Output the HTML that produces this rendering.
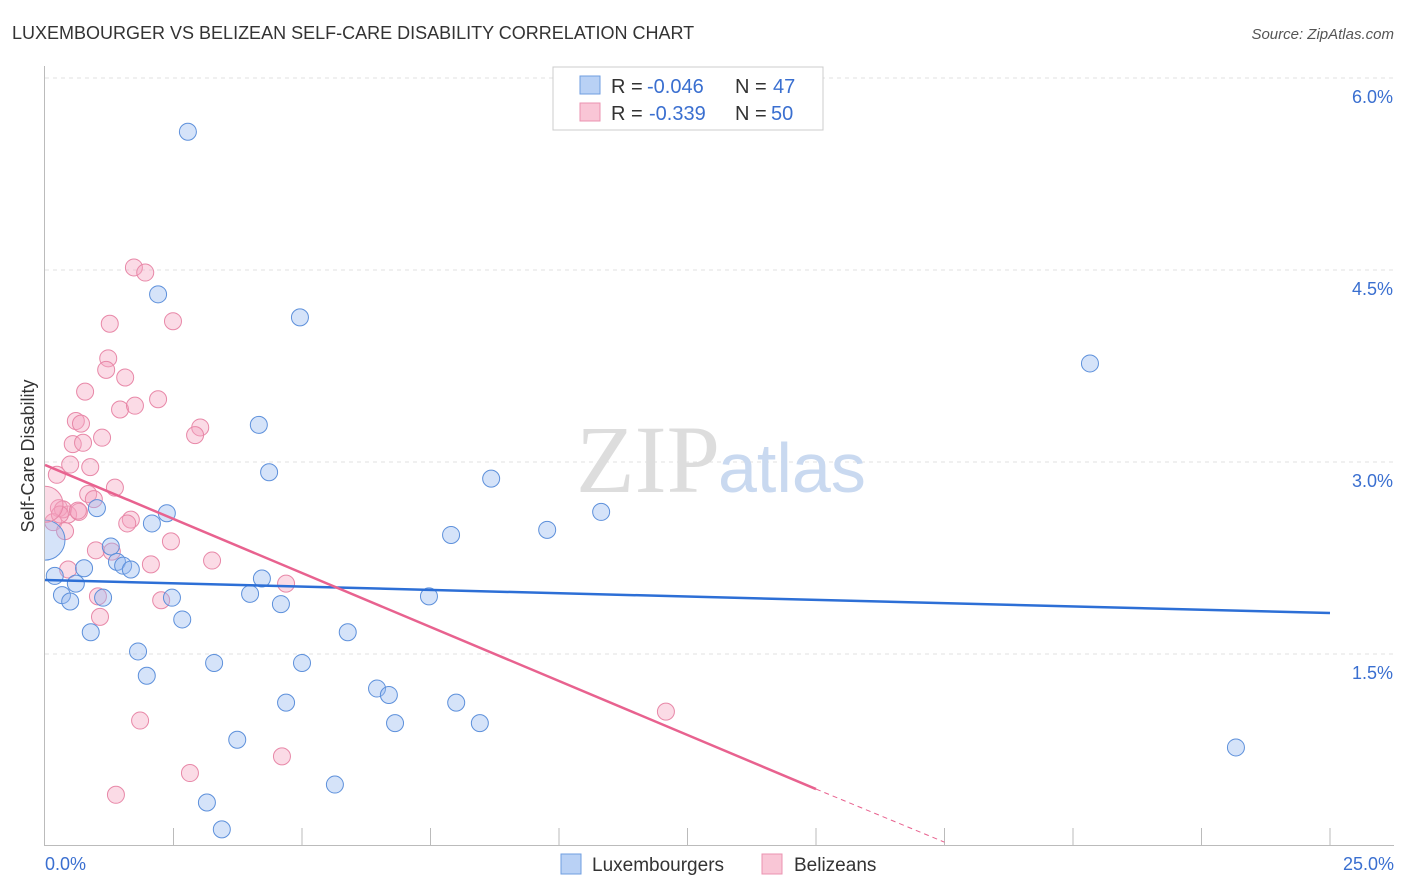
<!DOCTYPE html>
<html><head><meta charset="utf-8"><style>
body{margin:0;background:#fff;font-family:"Liberation Sans",sans-serif;}
svg{display:block}
</style></head><body>
<svg width="1406" height="892">
<defs><clipPath id="plot"><rect x="45" y="60" width="1360" height="786"/></clipPath></defs>
<text x="12" y="39" font-size="18" fill="#333">LUXEMBOURGER VS BELIZEAN SELF-CARE DISABILITY CORRELATION CHART</text>
<text x="1394" y="39" font-size="15" fill="#555" text-anchor="end" font-style="italic">Source: ZipAtlas.com</text>
<g id="grid"></g>
<g id="axes"></g>
<text x="720" y="492" font-size="96" fill="#ddd" text-anchor="end" font-family="Liberation Serif,serif">ZIP</text>
<text x="718" y="492" font-size="70" fill="#c9d9f0">atlas</text>
<g id="pts" clip-path="url(#plot)"></g>
<g id="lines"></g>
<text transform="translate(34,456) rotate(-90)" font-size="18" fill="#333" text-anchor="middle">Self-Care Disability</text>
<g>
<rect x="553" y="67" width="270" height="63" fill="#fff" stroke="#ccc"/>
<rect x="580" y="76" width="20" height="18" fill="#b9d1f5" stroke="#6f9ee0"/>
<rect x="580" y="103" width="20" height="18" fill="#f9c6d6" stroke="#eb93b0"/>
<text x="611" y="93" font-size="20" fill="#333">R =</text>
<text x="647" y="93" font-size="20" fill="#3a6fd0">-0.046</text>
<text x="735" y="93" font-size="20" fill="#333">N =</text>
<text x="773" y="93" font-size="20" fill="#3a6fd0">47</text>
<text x="611" y="120" font-size="20" fill="#333">R =</text>
<text x="649" y="120" font-size="20" fill="#3a6fd0">-0.339</text>
<text x="735" y="120" font-size="20" fill="#333">N =</text>
<text x="771" y="120" font-size="20" fill="#3a6fd0">50</text>
</g>
<g>
<rect x="561" y="854" width="20" height="20" fill="#b9d1f5" stroke="#6f9ee0"/>
<text x="592" y="871" font-size="19" fill="#333">Luxembourgers</text>
<rect x="762" y="854" width="20" height="20" fill="#f9c6d6" stroke="#eb93b0"/>
<text x="794" y="871" font-size="19" fill="#333">Belizeans</text>
</g>
</svg>
<script>
const xTicks=[0,25];
const yTicks=[1.5,3.0,4.5,6.0];
const bluePx=[[188,132],[158,294],[300,318],[1090,364],[259,425],[269,472],[491,479],[97,508],[167,513],[152,523],[601,512],[451,535],[547,530],[111,547],[117,562],[123,566],[131,569],[84,568],[55,576],[76,583],[262,578],[62,595],[70,601],[103,598],[172,598],[250,594],[281,604],[429,597],[182,620],[91,632],[348,632],[138,651],[147,676],[214,663],[302,663],[377,688],[389,695],[286,703],[456,703],[395,723],[480,723],[237,740],[1236,748],[335,784],[207,802],[222,829]];
const pinkPx=[[134,267],[145,272],[110,324],[173,321],[108,358],[106,370],[125,377],[85,392],[158,399],[120,409],[135,406],[76,421],[81,423],[200,428],[195,435],[102,438],[73,444],[83,443],[70,464],[90,467],[57,475],[115,487],[88,494],[94,499],[68,515],[59,508],[63,510],[79,512],[53,522],[65,531],[78,511],[131,519],[127,523],[171,542],[96,550],[112,552],[151,565],[212,561],[68,569],[98,596],[286,584],[161,600],[100,617],[140,720],[190,773],[116,795],[282,757],[666,712],[60,515]];
const r2=v=>Math.round(v*100)/100;
const blueX=bluePx.map(p=>r2((p[0]-45)/51.4)), blueY=bluePx.map(p=>r2((846-p[1])/128));
const pinkX=pinkPx.map(p=>r2((p[0]-45)/51.4)), pinkY=pinkPx.map(p=>r2((846-p[1])/128));
const blueBig=[0,2.39], pinkBig=[0,2.67];
const blueTrend=[[0,2.078],[25,1.82]];
const pinkTrend=[[0,2.977],[15,0.445]];
const pinkTrendDash=[[15,0.445],[17.5,0.03]];
const X=v=>45+v*51.4, Y=v=>846-v*128;
const NS="http://www.w3.org/2000/svg";
function mk(t,a,p){const e=document.createElementNS(NS,t);for(const k in a)e.setAttribute(k,a[k]);p.appendChild(e);return e;}
const grid=document.getElementById('grid'),axes=document.getElementById('axes');
yTicks.forEach(t=>{const l=mk('line',{x1:45,x2:1394,y1:Y(t),y2:Y(t),stroke:'#e2e2e2','stroke-dasharray':'4,4'},grid);


const tx=mk('text',{x:1393,y:Y(t)+25,'font-size':18,fill:'#3a6fd0','text-anchor':'end'},axes);tx.textContent=t.toFixed(1)+'%';

});
const ya=mk('line',{x1:44.5,x2:44.5,y1:66,y2:846,stroke:'#bbb'},axes);


const xa=mk('line',{x1:45,x2:1394,y1:845.5,y2:845.5,stroke:'#bbb'},axes);


for(let i=1;i<=10;i++){const tk=mk('line',{x1:X(i*2.5),x2:X(i*2.5),y1:828,y2:846,stroke:'#bbb'},axes);

}
xTicks.forEach((t,i)=>{const tx=mk('text',{x:i?1394:45,y:870,'font-size':18,fill:'#3a6fd0','text-anchor':i?'end':'start'},axes);tx.textContent=t.toFixed(1)+'%';

});
const pts=document.getElementById('pts');
function dot(x,y,r,blue){const c=mk('circle',{cx:X(x),cy:Y(y),r:r,fill:blue?'rgba(150,185,240,0.4)':'rgba(245,165,192,0.4)',stroke:blue?'#5d90db':'#e888a8','stroke-width':1},pts);

}
pinkX.forEach((x,i)=>dot(x,pinkY[i],8.5,false));
blueX.forEach((x,i)=>dot(x,blueY[i],8.5,true));
dot(blueBig[0],blueBig[1],20,true);
dot(pinkBig[0],pinkBig[1],18,false);
const lines=document.getElementById('lines');
function ln(a,col,dash,name){const l=mk('line',{x1:X(a[0][0]),y1:Y(a[0][1]),x2:X(a[1][0]),y2:Y(a[1][1]),stroke:col,'stroke-width':dash?1:2.5},lines);if(dash)l.setAttribute('stroke-dasharray','5,4');

}
ln(blueTrend,'#2d6fd6',false,'luxembourger-trendline');
ln(pinkTrend,'#e8628f',false,'belizean-trendline');
ln(pinkTrendDash,'#e8628f',true,'belizean-trendline-extension');
</script>
</body></html>
